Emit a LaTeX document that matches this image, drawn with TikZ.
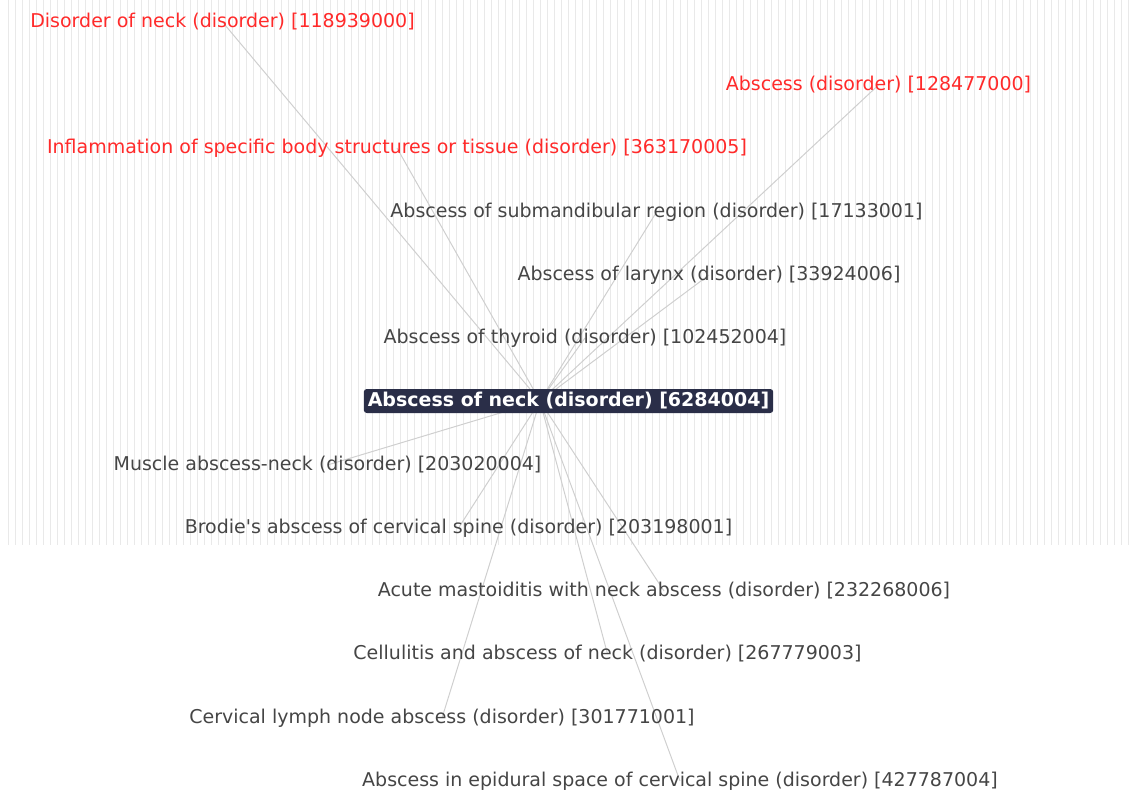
\documentclass[tikz,border=0pt]{standalone}
\usepackage{fontspec}
\setmainfont{DejaVu Sans}
\usetikzlibrary{backgrounds}
\usepackage{xcolor}
\definecolor{navy}{HTML}{2A2E48}
\definecolor{parentred}{HTML}{FF2A2A}
\definecolor{termgray}{HTML}{454545}
\definecolor{linkgray}{HTML}{CFCFCF}
\definecolor{stripegray}{HTML}{E9E9E9}

\begin{document}
\begin{tikzpicture}[
    x=1pt, y=-1pt,
    term/.style={text=termgray, font=\fontsize{19}{22}\selectfont, inner sep=0pt},
    parent/.style={term, text=parentred},
    focus/.style={rectangle, rounded corners=3pt, fill=navy, text=white, font=\fontsize{19}{22}\selectfont\bfseries, inner xsep=4pt, inner ysep=2pt, minimum height=24pt},
    link/.style={draw=linkgray, line width=1pt},
    stripe/.style={draw=stripegray, line width=1pt}
]
    \useasboundingbox (0,0) rectangle (1129,792);

    % parents
    \node[parent] (neckdis) at (222.5,22) {Disorder of neck (disorder) [118939000]};
    \node[parent] (abscess) at (878.5,85) {Abscess (disorder) [128477000]};
    \node[parent] (inflam) at (397,148) {Inflammation of specific body structures or tissue (disorder) [363170005]};

    % siblings above
    \node[term] (submand) at (656.5,212) {Abscess of submandibular region (disorder) [17133001]};
    \node[term] (larynx) at (709,275) {Abscess of larynx (disorder) [33924006]};
    \node[term] (thyroid) at (585,338) {Abscess of thyroid (disorder) [102452004]};

    % focus concept
    \node[focus] (neckabs) at (568.5,401) {Abscess of neck (disorder) [6284004]};
    \coordinate (hub) at (540,401);

    % children
    \node[term] (muscle) at (327.5,465) {Muscle abscess-neck (disorder) [203020004]};
    \node[term] (brodie) at (458.5,528) {Brodie\textquotesingle s abscess of cervical spine (disorder) [203198001]};
    \node[term] (mastoid) at (664,591) {Acute mastoiditis with neck abscess (disorder) [232268006]};
    \node[term] (cellul) at (607.5,654) {Cellulitis and abscess of neck (disorder) [267779003]};
    \node[term] (lymph) at (442,718) {Cervical lymph node abscess (disorder) [301771001]};
    \node[term] (epidural) at (680,781) {Abscess in epidural space of cervical spine (disorder) [427787004]};

    \begin{scope}[on background layer]
        \foreach \x in {8,15,...,1128}
            \draw[stripe] (\x,0) -- (\x,545);
        \foreach \n in {neckdis,abscess,inflam,submand,larynx,thyroid,muscle,brodie,mastoid,cellul,lymph,epidural}
            \draw[link] (hub) -- (\n.center);
    \end{scope}
\end{tikzpicture}
\end{document}
